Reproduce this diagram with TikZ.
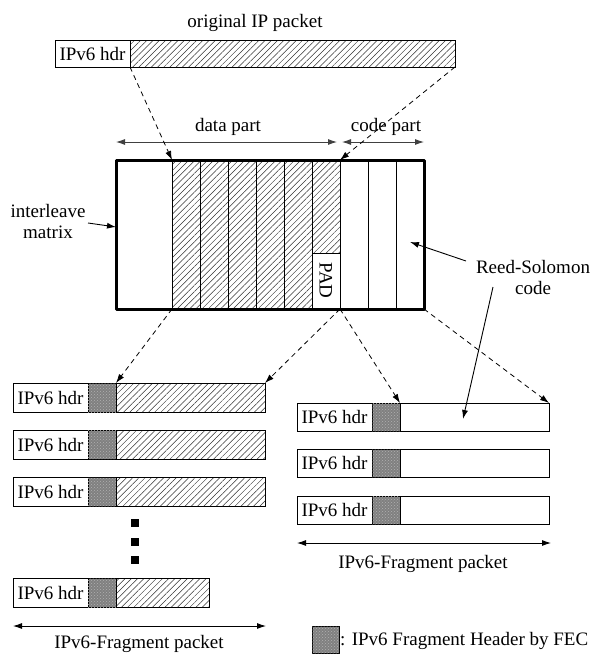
\documentclass[tikz,border=0pt]{standalone}
\usepackage{fontspec}
\setmainfont{Liberation Serif}
\usetikzlibrary{arrows.meta,patterns,patterns.meta}
\begin{document}
\begin{tikzpicture}[x=1pt,y=-1pt,
  font=\fontsize{19}{21}\selectfont,
  box/.style={draw, line width=0.9pt, inner sep=0pt, outer sep=0pt, anchor=north west},
  hdrbox/.style={box, minimum width=75pt, minimum height=#1, align=center},
  hdrbox/.default=28pt,
  hatched/.style={box, pattern={Lines[angle=45,distance=4.4pt,line width=0.5pt]}, pattern color=black!80},
  fecbox/.style={box, minimum width=28pt, minimum height=28pt, fill=black!50,
    postaction={pattern=crosshatch dots, pattern color=white!70!black}},
  col/.style={box, minimum width=28pt, minimum height=149pt},
  dashlink/.style={dashed, dash pattern=on 5pt off 4pt, line width=0.8pt, -{Latex[length=9pt,width=6pt]}},
  solidlink/.style={line width=0.9pt, -{Latex[length=9pt,width=6pt]}},
  span/.style={line width=0.9pt, {Latex[length=9pt,width=6pt]}-{Latex[length=9pt,width=6pt]}},
  dimline/.style={line width=0.9pt, draw=black!75, {Latex[length=9pt,width=6pt]}-{Latex[length=9pt,width=6pt]}},
  dotsq/.style={fill=black, minimum size=8pt, inner sep=0pt},
  lbl/.style={inner sep=0pt, align=center}
]
\useasboundingbox (0,0) rectangle (600,654);

% original packet
\node[lbl] (origlbl) at (255,23) {original IP packet};
\node[hdrbox=27pt] (ohdr) at (55,40) {IPv6 hdr};
\node[hatched, minimum width=325pt, minimum height=27pt] (opay) at (130,40) {};

% interleave matrix: blank area, six data columns, three code columns
\node[box, draw=none, minimum width=308pt, minimum height=149pt] (mat) at (116,160) {};
\foreach \i in {1,...,6}{
  \node[col, pattern={Lines[angle=45,distance=4.4pt,line width=0.5pt]}, pattern color=black!80]
    (c\i) at ({172+28*(\i-1)},160) {};
}
\foreach \i in {1,2,3}{
  \node[col] (r\i) at ({340+28*(\i-1)},160) {};
}
\node[box, fill=white, minimum width=28pt, minimum height=55pt] (pad) at (312,253) {};
\node[rotate=-90, inner sep=0pt] (padtxt) at (pad.center) {PAD};
\draw[line width=3pt, line join=round] (mat.north west) rectangle (mat.south east);

% part labels above the matrix
\coordinate (dl) at (116,142);
\coordinate (dr) at (337,142);
\coordinate (cl) at (342,142);
\coordinate (cr) at (424,142);
\draw[dimline] (dl) -- (dr);
\draw[dimline] (cl) -- (cr);
\node[lbl] (datalbl) at (228,127) {data part};
\node[lbl] (codelbl) at (386,127) {code part};

% side labels
\node[lbl] (ilbl) at (48,221) {interleave\\matrix};
\coordinate (ifrom) at (88,223);
\coordinate (ito) at (116,227);
\draw[solidlink] (ifrom) -- (ito);

\node[lbl] (rslbl) at (533,277) {Reed-Solomon\\code};
\coordinate (rsa) at (466,261);
\coordinate (rsat) at (410,242);
\coordinate (rsb) at (493,287);
\draw[solidlink] (rsa) -- (rsat);

% left fragment packets
\foreach \n/\y/\w in {1/383/149, 2/430/149, 3/477/149, 4/578/93}{
  \node[hdrbox=29pt] (lh\n) at (13,\y) {IPv6 hdr};
  \node[fecbox, minimum height=29pt] (lf\n) at (88,\y) {};
  \node[hatched, minimum width=\w pt, minimum height=29pt] (lp\n) at (116,\y) {};
}
\node[dotsq] (d1) at (135,523) {};
\node[dotsq] (d2) at (135,542) {};
\node[dotsq] (d3) at (135,560) {};
\coordinate (lsl) at (13,626);
\coordinate (lsr) at (266,626);
\draw[span] (lsl) -- (lsr);
\node[lbl] (llbl) at (139,644) {IPv6-Fragment packet};

% right fragment packets
\foreach \n/\y in {1/403, 2/449, 3/496}{
  \node[hdrbox] (rh\n) at (297,\y) {IPv6 hdr};
  \node[fecbox] (rf\n) at (372,\y) {};
  \node[box, minimum width=149pt, minimum height=28pt] (rp\n) at (400,\y) {};
}
\coordinate (rsl) at (297,543);
\coordinate (rsr) at (551,543);
\draw[span] (rsl) -- (rsr);
\node[lbl] (rlbl) at (423,564) {IPv6-Fragment packet};

\coordinate (rst) at (463,419);
\draw[solidlink] (rsb) -- (rst);

% mapping arrows
\draw[dashlink] (ohdr.south east) -- (c1.north west);
\draw[dashlink] (opay.south east) -- (c6.north east);
\draw[dashlink] (c1.south west) -- (lp1.north west);
\draw[dashlink] (c6.south east) -- (lp1.north east);
\draw[dashlink] (c6.south east) -- (rp1.north west);
\draw[dashlink] (mat.south east) -- (rp1.north east);

% legend
\node[fecbox, minimum width=27pt, minimum height=27pt] (leg) at (312,626) {};
\node[lbl, anchor=west] (legtxt) at (340,641) {: IPv6 Fragment Header by FEC};
\end{tikzpicture}
\end{document}
